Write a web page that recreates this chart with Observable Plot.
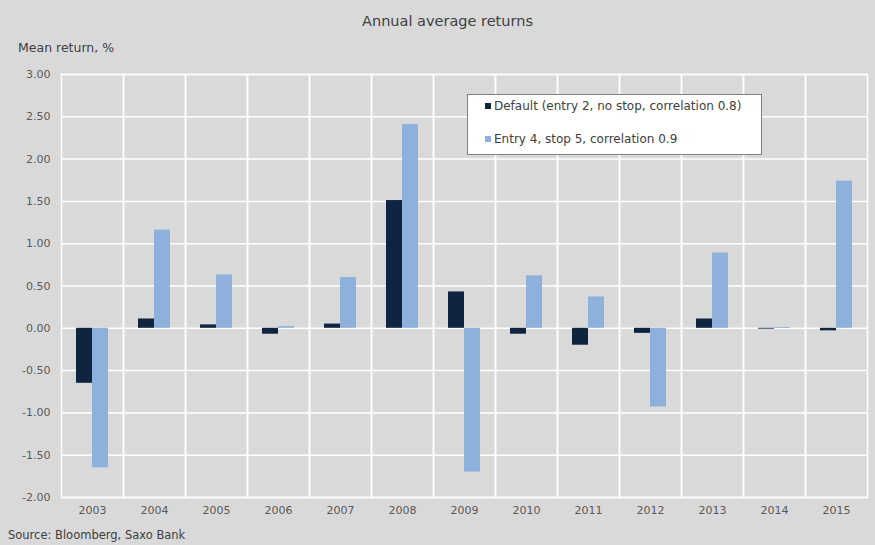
<!DOCTYPE html>
<html><head><meta charset="utf-8">
<script src="https://cdn.jsdelivr.net/npm/d3@7"></script>
<script src="https://cdn.jsdelivr.net/npm/@observablehq/plot@0.6"></script>
<style>
body{margin:0;background:#d9d9d9;}
#wrap{position:relative;width:875px;height:545px;background:#d9d9d9;font-family:"DejaVu Sans",sans-serif;color:#595959;overflow:hidden}
#chart{position:absolute;left:0;top:0}
#title{position:absolute;left:0;width:895px;top:13px;text-align:center;font-size:14.5px;color:#404040}
#ylabel{position:absolute;left:18px;top:40px;font-size:12.5px;color:#404040}
#legend{position:absolute;left:467px;top:94px;width:293px;height:59px;background:#fff;border:1px solid #808080;font-size:12px;color:#404040}
#legend .item{position:absolute;left:17px;white-space:nowrap}
#legend .sw{display:inline-block;width:6px;height:6px;margin-right:3px;vertical-align:1px}
#source{position:absolute;left:8px;top:528px;font-size:11.5px;color:#404040}
</style></head><body>
<div id="wrap">
<div id="chart"></div>
<div id="title">Annual average returns</div>
<div id="ylabel">Mean return, %</div>
<div id="legend"></div>
<div id="source">Source: Bloomberg, Saxo Bank</div>
</div>
<script>
const years = ["2003","2004","2005","2006","2007","2008","2009","2010","2011","2012","2013","2014","2015"];
const seriesNames = ["Default (entry 2, no stop, correlation 0.8)", "Entry 4, stop 5, correlation 0.9"];
const defaultValues = [-0.65, 0.11, 0.04, -0.07, 0.05, 1.51, 0.43, -0.07, -0.20, -0.06, 0.11, -0.01, -0.03];
const entry4Values = [-1.65, 1.16, 0.63, 0.02, 0.60, 2.41, -1.70, 0.62, 0.37, -0.93, 0.89, 0.01, 1.74];
const colors = ["#0f2441", "#8eb1dc"];
const yTicks = [-2, -1.5, -1, -0.5, 0, 0.5, 1, 1.5, 2, 2.5, 3];

const rows = years.flatMap((yr, i) => [
  {year: yr, series: seriesNames[0], value: defaultValues[i]},
  {year: yr, series: seriesNames[1], value: entry4Values[i]}
]);

const chart = Plot.plot({
  width: 875,
  height: 545,
  marginTop: 74,
  marginBottom: 48,
  marginLeft: 58,
  marginRight: 5,
  style: {background: "transparent", fontFamily: "DejaVu Sans, sans-serif", fontSize: "11px", color: "#595959"},
  fx: {domain: years, padding: 0, label: null, axis: null},
  x: {domain: seriesNames, paddingInner: 0, paddingOuter: 0.84, axis: null},
  y: {domain: [-2, 3], axis: null},
  color: {domain: seriesNames, range: colors},
  marks: [
    Plot.gridY(yTicks, {stroke: "white", strokeOpacity: 1, strokeWidth: 1.5}),
    Plot.frame({stroke: "white", strokeOpacity: 1, strokeWidth: 1.5}),
    Plot.barY(rows, {fx: "year", x: "series", y: "value", fill: "series"}),
    Plot.axisY(yTicks, {tickSize: 0, tickPadding: 11, label: null, tickFormat: d => d.toFixed(2), fill: "#595959"}),
    Plot.axisFx({anchor: "bottom", tickSize: 0, tickPadding: 9, label: null, fill: "#595959"})
  ]
});
document.getElementById("chart").appendChild(chart);

const legend = document.getElementById("legend");
seriesNames.forEach((name, i) => {
  const it = document.createElement("div");
  it.className = "item";
  it.style.top = (i === 0 ? 4 : 37) + "px";
  const sw = document.createElement("span");
  sw.className = "sw";
  sw.style.background = colors[i];
  it.appendChild(sw);
  it.appendChild(document.createTextNode(name));
  legend.appendChild(it);
});
</script>
</body></html>
